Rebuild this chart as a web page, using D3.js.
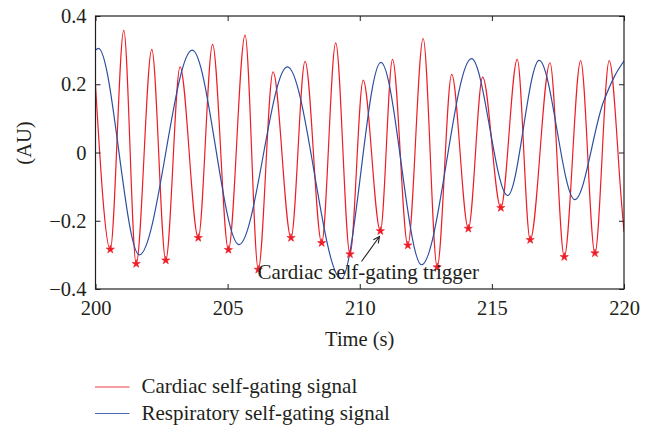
<!DOCTYPE html>
<html>
<head>
<meta charset="utf-8">
<script src="https://cdn.jsdelivr.net/npm/d3@7"></script>
<style>
  body { margin: 0; background: #fff; }
  text { font-family: "Liberation Serif", "Times New Roman", serif; fill: #231f20; }
</style>
</head>
<body>
<div id="chart"></div>
<script>
// cardiac self-gating signal, read at its peaks and troughs
const cardiacTime = [200.00, 200.56, 201.07, 201.54, 202.13, 202.66, 203.20, 203.89, 204.43, 205.03,
  205.66, 206.16, 206.72, 207.40, 207.93, 208.56, 209.09, 209.63, 210.13, 210.78,
  211.24, 211.82, 212.40, 212.93, 213.48, 214.11, 214.65, 215.34, 215.96, 216.45,
  217.20, 217.74, 218.36, 218.90, 219.44, 219.91, 220.00];
const cardiacValue = [0.197, -0.284, 0.358, -0.326, 0.302, -0.316, 0.251, -0.250, 0.317, -0.285,
  0.344, -0.343, 0.236, -0.250, 0.267, -0.265, 0.321, -0.298, 0.212, -0.230,
  0.273, -0.272, 0.334, -0.336, 0.229, -0.223, 0.221, -0.162, 0.273, -0.256,
  0.263, -0.306, 0.269, -0.295, 0.269, -0.150, -0.233];

// respiratory self-gating signal
const respTime = [200.00, 200.11, 201.66, 203.66, 205.43, 207.26, 209.30, 210.80, 212.34, 214.23,
  215.60, 216.79, 218.14, 219.22, 219.66, 220.00];
const respValue = [0.300, 0.305, -0.300, 0.300, -0.270, 0.251, -0.370, 0.264, -0.329, 0.275,
  -0.126, 0.270, -0.138, 0.148, 0.226, 0.268];

const xTicks = [200, 205, 210, 215, 220];
const yTicks = [-0.4, -0.2, 0, 0.2, 0.4];
const legendLabels = ["Cardiac self-gating signal", "Respiratory self-gating signal"];

const width = 653, height = 425;
const mLeft = 95.5, mRight = 624, mTop = 16, mBottom = 289;
const red = "#ee1d25", blue = "#2d4ea2";

const svg = d3.select("#chart").append("svg")
  .attr("width", width).attr("height", height);

const x = d3.scaleLinear().domain([200, 220]).range([mLeft, mRight]);
const y = d3.scaleLinear().domain([-0.4, 0.4]).range([mBottom, mTop]);

const cardiac = cardiacTime.map((t, i) => ({ t: t, v: cardiacValue[i] }));
const resp = respTime.map((t, i) => ({ t: t, v: respValue[i] }));
// triggers sit on every cardiac trough
const triggers = cardiac.filter((d, i) =>
  i > 0 && i < cardiac.length - 1 && d.v < cardiac[i - 1].v && d.v < cardiac[i + 1].v);

const line = d3.line().x(d => x(d.t)).y(d => y(d.v)).curve(d3.curveMonotoneX);

svg.append("defs").append("clipPath").attr("id", "clip")
  .append("rect").attr("x", mLeft).attr("y", mTop).attr("width", mRight - mLeft).attr("height", mBottom - mTop);

const plot = svg.append("g").attr("clip-path", "url(#clip)");

plot.append("path").datum(cardiac)
  .attr("fill", "none").attr("stroke", red).attr("stroke-width", 1.2)
  .attr("d", line);

plot.append("path").datum(resp)
  .attr("fill", "none").attr("stroke", blue).attr("stroke-width", 1.2)
  .attr("d", line);

svg.append("g").selectAll("path")
  .data(triggers)
  .enter().append("path")
    .attr("transform", d => `translate(${x(d.t)},${y(d.v)})`)
    .attr("d", d3.symbol(d3.symbolStar, 21))
    .attr("fill", red).attr("stroke", red).attr("stroke-width", 0.6);

// axes, ticks pointing inward on all four sides
const fmt = d => d === 0 ? "0" : d3.format(".1f")(d);

svg.append("g").attr("transform", `translate(0,${mBottom})`)
  .call(d3.axisBottom(x).tickValues(xTicks).tickSize(-5).tickSizeOuter(0).tickPadding(11).tickFormat(d3.format("d")));
svg.append("g").attr("transform", `translate(0,${mTop})`)
  .call(d3.axisTop(x).tickValues(xTicks).tickSize(-5).tickSizeOuter(0).tickFormat(""));
svg.append("g").attr("transform", `translate(${mLeft},0)`)
  .call(d3.axisLeft(y).tickValues(yTicks).tickSize(-5).tickSizeOuter(0).tickPadding(9).tickFormat(fmt));
svg.append("g").attr("transform", `translate(${mRight},0)`)
  .call(d3.axisRight(y).tickValues(yTicks).tickSize(-5).tickSizeOuter(0).tickFormat(""));

svg.selectAll(".domain").remove();
svg.selectAll(".tick line").attr("stroke", "#231f20");
svg.selectAll(".tick text").style("font-size", "20.5px").attr("font-family", null);

svg.append("rect")
  .attr("x", mLeft).attr("y", mTop).attr("width", mRight - mLeft).attr("height", mBottom - mTop)
  .attr("fill", "none").attr("stroke", "#231f20").attr("stroke-width", 1.2);

svg.append("text")
  .attr("x", (mLeft + mRight) / 2).attr("y", 346)
  .attr("text-anchor", "middle").style("font-size", "20.5px")
  .text("Time (s)");

svg.append("text")
  .attr("transform", "translate(31,143) rotate(-90)")
  .attr("text-anchor", "middle").style("font-size", "20.5px")
  .text("(AU)");

// annotation
svg.append("text")
  .attr("x", 257.5).attr("y", 278.5).style("font-size", "21px")
  .text("Cardiac self-gating trigger");

const ax0 = 361.5, ay0 = 261.5, ax1 = 379.5, ay1 = 236.5;
const ang = Math.atan2(ay1 - ay0, ax1 - ax0);
const head = d3.path();
head.moveTo(ax0, ay0); head.lineTo(ax1, ay1);
head.moveTo(ax1 - 7 * Math.cos(ang - 0.45), ay1 - 7 * Math.sin(ang - 0.45));
head.lineTo(ax1, ay1);
head.lineTo(ax1 - 7 * Math.cos(ang + 0.45), ay1 - 7 * Math.sin(ang + 0.45));
svg.append("path").attr("d", head.toString())
  .attr("fill", "none").attr("stroke", "#231f20").attr("stroke-width", 1.1);

// legend
const legend = svg.append("g").selectAll("g")
  .data(legendLabels)
  .enter().append("g")
    .attr("transform", (d, i) => `translate(95,${387 + i * 26.5})`);
legend.append("line")
  .attr("x1", 0).attr("x2", 34.5)
  .attr("stroke", (d, i) => i === 0 ? red : blue).attr("stroke-width", 1.1).attr("opacity", 0.85);
legend.append("text")
  .attr("x", 46.5).attr("y", 6).style("font-size", "21px")
  .text(d => d);
</script>
</body>
</html>
